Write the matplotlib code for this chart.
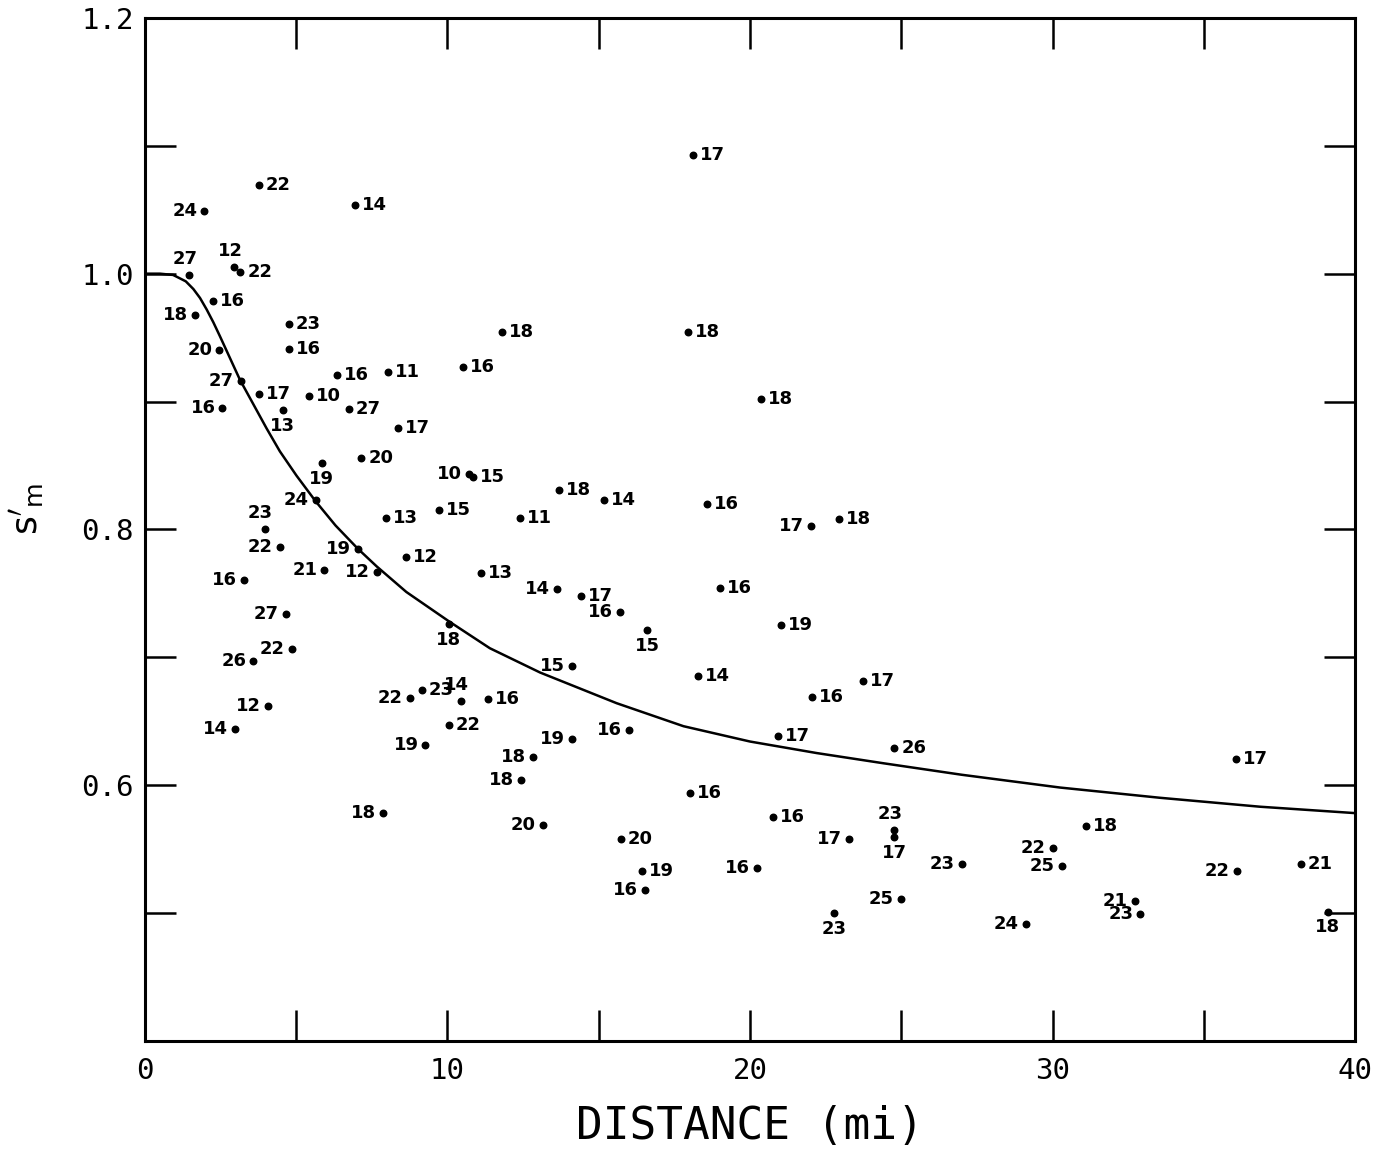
import numpy as np
import matplotlib
matplotlib.use("Agg")
from matplotlib import pyplot as plt

# point data: distance (mi), s'm, printed number
dist = [3.77, 1.96, 6.95, 18.13, 1.45, 2.96, 3.15, 2.26, 1.66, 2.46,
        4.76, 4.76, 11.79, 10.50, 8.03, 6.35, 3.17, 3.76, 5.43, 2.56,
        4.55, 6.75, 8.35, 5.84, 7.15, 10.70, 10.85, 17.94, 20.35, 13.70,
        15.18, 18.58, 22.02, 22.93, 5.64, 3.96, 7.96, 9.72, 12.40, 4.46,
        7.03, 8.64, 5.93, 7.66, 11.11, 13.61, 3.27, 14.40, 15.69, 16.61,
        19.01, 4.66, 21.02, 10.05, 4.86, 3.58, 14.10, 18.29, 22.05, 23.75,
        4.08, 2.98, 8.76, 9.16, 10.44, 11.33, 10.05, 9.27, 12.84, 14.10,
        16.01, 20.94, 24.77, 12.43, 7.88, 13.15, 18.02, 20.75, 24.77, 24.77,
        23.27, 15.72, 16.44, 20.24, 27.00, 16.54, 24.98, 22.78, 36.07, 31.10,
        30.00, 30.30, 36.09, 38.20, 32.72, 32.90, 29.11, 39.09]
sm = [1.069, 1.049, 1.054, 1.093, 0.999, 1.005, 1.001, 0.979, 0.968, 0.940,
      0.961, 0.941, 0.954, 0.927, 0.923, 0.921, 0.916, 0.906, 0.904, 0.895,
      0.893, 0.894, 0.879, 0.852, 0.856, 0.843, 0.841, 0.954, 0.902, 0.831,
      0.823, 0.820, 0.803, 0.808, 0.823, 0.800, 0.809, 0.815, 0.809, 0.786,
      0.785, 0.778, 0.768, 0.767, 0.766, 0.753, 0.760, 0.748, 0.735, 0.721,
      0.754, 0.734, 0.725, 0.726, 0.706, 0.697, 0.693, 0.685, 0.669, 0.681,
      0.662, 0.644, 0.668, 0.674, 0.666, 0.667, 0.647, 0.631, 0.622, 0.636,
      0.643, 0.638, 0.629, 0.604, 0.578, 0.569, 0.594, 0.575, 0.565, 0.559,
      0.558, 0.558, 0.533, 0.535, 0.538, 0.518, 0.511, 0.500, 0.620, 0.568,
      0.551, 0.537, 0.533, 0.538, 0.509, 0.499, 0.491, 0.501]
nums = [22, 24, 14, 17, 27, 12, 22, 16, 18, 20,
        23, 16, 18, 16, 11, 16, 27, 17, 10, 16,
        13, 27, 17, 19, 20, 10, 15, 18, 18, 18,
        14, 16, 17, 18, 24, 23, 13, 15, 11, 22,
        19, 12, 21, 12, 13, 14, 16, 17, 16, 15,
        16, 27, 19, 18, 22, 26, 15, 14, 16, 17,
        12, 14, 22, 23, 14, 16, 22, 19, 18, 19,
        16, 17, 26, 18, 18, 20, 16, 16, 23, 17,
        17, 20, 19, 16, 23, 16, 25, 23, 17, 18,
        22, 25, 22, 21, 21, 23, 24, 18]
# where the number sits relative to its dot (r/l = right/left, a/b = above/below)
side = ("rlrraarrll" "rrrrrrlrrl" "brrbrlrrrr" "rrlrlarrrl" "lrllrllrlb"
        "rlrblllrrr" "lllrarrlll" "lrrlllrrab" "lrrllllbrr" "lllrlllb")

# fitted curve
curve_x = [0.0, 0.5, 0.93, 1.10, 1.35, 1.60, 1.82, 2.04, 2.26, 2.48, 2.81, 3.14,
           3.58, 4.02, 4.46, 5.01, 5.64, 6.30, 7.03, 7.66, 8.64, 10.05, 11.40,
           13.06, 15.59, 17.80, 20.0, 22.2, 24.41, 27.0, 30.25, 33.55, 36.86, 40.0]
curve_y = [1.000, 1.000, 0.999, 0.997, 0.994, 0.988, 0.981, 0.972, 0.962, 0.951,
           0.934, 0.917, 0.898, 0.879, 0.861, 0.842, 0.822, 0.803, 0.785, 0.771,
           0.751, 0.728, 0.707, 0.688, 0.664, 0.646, 0.634, 0.625, 0.617, 0.608,
           0.598, 0.590, 0.583, 0.578]

mono = "DejaVu Sans Mono"
plt.rcParams["mathtext.fontset"] = "dejavusans"

fig = plt.figure(figsize=(13.87, 11.55), dpi=100)
ax = fig.add_axes([0.1045, 0.099, 0.8725, 0.8854])

ax.plot(curve_x, curve_y, color="black", lw=1.8)
ax.scatter(dist, sm, s=22, color="black", zorder=3)

offs = {"r": ((5, 0), "left", "center"),
        "l": ((-5, 0), "right", "center"),
        "a": ((-3, 5), "center", "bottom"),
        "b": ((0, -5), "center", "top")}
for x, y, n, sd in zip(dist, sm, nums, side):
    (dx, dy), ha, va = offs[sd]
    ax.annotate(str(n), (x, y), xytext=(dx, dy), textcoords="offset points",
                ha=ha, va=va, fontsize=13, fontweight="bold")

ax.set_xlim(0, 40)
ax.set_ylim(0.4, 1.2)
ax.set_xticks(np.arange(0, 41, 5))
ax.set_xticklabels(["0", "", "10", "", "20", "", "30", "", "40"], fontfamily=mono, fontsize=21)
ax.set_yticks(np.arange(0.4, 1.21, 0.1))
ax.set_yticklabels(["", "", "0.6", "", "0.8", "", "1.0", "", "1.2"], fontfamily=mono, fontsize=21)
ax.tick_params(axis="both", direction="in", length=22, width=1.8,
               top=True, right=True)
ax.tick_params(axis="x", pad=12)
ax.tick_params(axis="y", pad=8)
for sp in ax.spines.values():
    sp.set_linewidth(2.2)

ax.set_xlabel("DISTANCE (mi)", fontfamily=mono, fontsize=32, labelpad=14)
ax.set_ylabel(r"$\mathrm{s}'_\mathrm{m}$", fontsize=26, rotation=90)
ax.yaxis.set_label_coords(-0.082, 0.52)

fig.savefig("out.png", dpi=100)
